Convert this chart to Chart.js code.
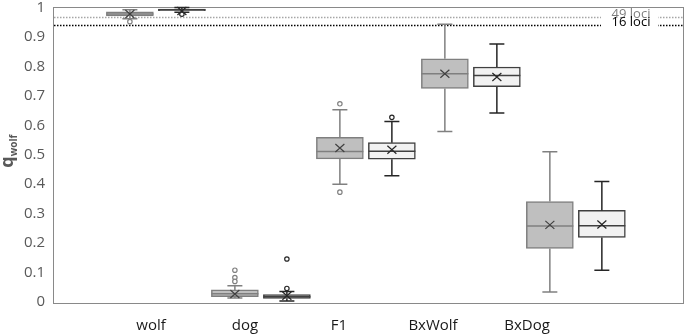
<!DOCTYPE html>
<html><head><meta charset="utf-8">
<script src="https://cdn.jsdelivr.net/npm/chart.js@4/dist/chart.umd.min.js"></script>
<style>html,body{margin:0;padding:0;background:#fff}canvas{display:block}</style>
</head><body>
<canvas id="c" width="685" height="336"></canvas>
<script>
// ---- data ----
const categories = ['wolf', 'dog', 'F1', 'BxWolf', 'BxDog'];
const yTicks = [0, 0.1, 0.2, 0.3, 0.4, 0.5, 0.6, 0.7, 0.8, 0.9, 1];

// grey series
const grayLow    = [0.962, 0.014, 0.400, 0.579, 0.034];
const grayQ1     = [0.971, 0.018, 0.486, 0.725, 0.182];
const grayMedian = [0.978, 0.028, 0.511, 0.775, 0.258];
const grayQ3     = [0.985, 0.041, 0.559, 0.826, 0.341];
const grayHigh   = [0.992, 0.055, 0.653, 0.943, 0.510];
const grayMean   = [0.978, 0.027, 0.523, 0.775, 0.262];
const grayOutliers = [[0.952], [0.108, 0.083, 0.070], [0.673, 0.373], [], []];

// white series
const whiteLow    = [0.984, 0.003, 0.429, 0.642, 0.108];
const whiteQ1     = [0.989, 0.012, 0.485, 0.731, 0.219];
const whiteMedian = [0.992, 0.018, 0.512, 0.769, 0.259];
const whiteQ3     = [0.995, 0.025, 0.541, 0.798, 0.311];
const whiteHigh   = [1.000, 0.036, 0.613, 0.876, 0.409];
const whiteMean   = [0.988, 0.021, 0.517, 0.764, 0.263];
const whiteOutliers = [[0.977], [0.146, 0.046], [0.627], [], []];

// reference lines
const refLabels = ['49 loci', '16 loci'];
const refValues = [0.969, 0.940];

// ---- styles ----
const series = [
  {low: grayLow, q1: grayQ1, med: grayMedian, q3: grayQ3, high: grayHigh, mean: grayMean, out: grayOutliers,
   fill: '#bfbfbf', stroke: '#7f7f7f', whisker: '#808080', mark: '#404040'},
  {low: whiteLow, q1: whiteQ1, med: whiteMedian, q3: whiteQ3, high: whiteHigh, mean: whiteMean, out: whiteOutliers,
   fill: '#f2f2f2', stroke: '#404040', whisker: '#262626', mark: '#262626'}
];
const refStyles = [{color: '#a6a6a6', text: '#7f7f7f'}, {color: '#000000', text: '#000000'}];

const boxPlugin = {
  id: 'boxplot',
  beforeDatasetsDraw(chart) {
    const ctx = chart.ctx, a = chart.chartArea, y = chart.scales.y;
    ctx.save();
    // frame
    ctx.strokeStyle = '#898989';
    ctx.lineWidth = 1;
    ctx.strokeRect(a.left + 0.5, Math.round(a.top) - 0.5, a.right - a.left - 1, Math.round(a.bottom - a.top) + 1);
    // reference lines
    refValues.forEach((v, i) => {
      const py = Math.round(y.getPixelForValue(v)) + 0.5;
      ctx.strokeStyle = refStyles[i].color;
      ctx.lineWidth = 1.3;
      ctx.setLineDash([1.5, 1.5]);
      ctx.beginPath(); ctx.moveTo(a.left + 1, py); ctx.lineTo(a.right - 1, py); ctx.stroke();
    });
    ctx.setLineDash([]);
    ctx.fillStyle = '#ffffff';
    ctx.fillRect(a.right - 83, a.top + 1, 57, 22);
    ctx.font = '13px "Open Sans"';
    ctx.textAlign = 'center';
    ctx.textBaseline = 'middle';
    refValues.forEach((v, i) => {
      const py = y.getPixelForValue(v);
      ctx.fillStyle = refStyles[i].text;
      ctx.fillText(refLabels[i], a.right - 53, py - 2.5);
    });
    ctx.restore();
  },
  afterDatasetsDraw(chart) {
    const ctx = chart.ctx, y = chart.scales.y;
    ctx.save();
    series.forEach((s, d) => {
      const meta = chart.getDatasetMeta(d);
      meta.data.forEach((el, i) => {
        const x = el.x, half = el.width / 2;
        const pQ1 = y.getPixelForValue(s.q1[i]), pQ3 = y.getPixelForValue(s.q3[i]);
        const pLo = y.getPixelForValue(s.low[i]), pHi = y.getPixelForValue(s.high[i]);
        ctx.strokeStyle = s.whisker;
        ctx.lineWidth = 1.5;
        ctx.beginPath();
        ctx.moveTo(x, pQ3); ctx.lineTo(x, pHi);
        ctx.moveTo(x - 7.5, pHi); ctx.lineTo(x + 7.5, pHi);
        ctx.moveTo(x, pQ1); ctx.lineTo(x, pLo);
        ctx.moveTo(x - 7.5, pLo); ctx.lineTo(x + 7.5, pLo);
        ctx.stroke();
        // median
        const pMed = y.getPixelForValue(s.med[i]);
        ctx.strokeStyle = s.stroke;
        ctx.beginPath(); ctx.moveTo(x - half, pMed); ctx.lineTo(x + half, pMed); ctx.stroke();
        // mean X
        const pMean = y.getPixelForValue(s.mean[i]);
        ctx.strokeStyle = s.mark;
        ctx.lineWidth = 1.2;
        ctx.beginPath();
        ctx.moveTo(x - 4.5, pMean - 4); ctx.lineTo(x + 4.5, pMean + 4);
        ctx.moveTo(x - 4.5, pMean + 4); ctx.lineTo(x + 4.5, pMean - 4);
        ctx.stroke();
        // outliers
        s.out[i].forEach(v => {
          const p = y.getPixelForValue(v);
          ctx.beginPath(); ctx.arc(x, p, 2.2, 0, Math.PI * 2);
          ctx.fillStyle = '#ffffff'; ctx.fill();
          ctx.strokeStyle = s.whisker; ctx.lineWidth = 1.2; ctx.stroke();
        });
      });
    });
    // y axis title q_wolf
    const a = chart.chartArea;
    const cy = (a.top + a.bottom) / 2;
    ctx.translate(15, cy + 13);
    ctx.rotate(-Math.PI / 2);
    ctx.fillStyle = '#595959';
    ctx.textAlign = 'left';
    ctx.textBaseline = 'alphabetic';
    ctx.font = 'bold 18px "Open Sans"';
    ctx.fillText('q', 0, -2);
    const qw = ctx.measureText('q').width;
    ctx.font = 'bold 10px "Open Sans"';
    ctx.fillText('wolf', qw, 1.5);
    ctx.restore();
  }
};

const makeData = (s) => categories.map((c, i) => ({x: i + 1, y: [s.q1[i], s.q3[i]]}));

new Chart(document.getElementById('c'), {
  type: 'bar',
  data: {
    datasets: series.map((s, d) => ({
      label: 'series' + d,
      data: makeData(s),
      backgroundColor: s.fill,
      borderColor: s.stroke,
      borderWidth: 1.5,
      borderSkipped: false,
      barThickness: 52,
      maxBarThickness: 47,
      xAxisID: 'x',
      yAxisID: 'y'
    }))
  },
  options: {
    responsive: false,
    devicePixelRatio: 1,
    animation: false,
    layout: {padding: {top: 0, right: 1, bottom: 0, left: 0}},
    plugins: {legend: {display: false}, tooltip: {enabled: false}},
    scales: {
      x: {type: 'linear', display: false, min: 0.02, max: 6.03, offset: false},
      xl: {
        type: 'linear', position: 'bottom', min: -0.043, max: 6.67, offset: false,
        afterBuildTicks: sc => { sc.ticks = categories.map((c, i) => ({value: i + 1})); },
        afterFit: sc => { sc.height = 34; sc.paddingLeft = 0; sc.paddingRight = 0; },
        grid: {display: false, drawTicks: false, offset: false},
        border: {display: false},
        ticks: {
          autoSkip: false, maxRotation: 0, padding: 15,
          color: '#1a1a1a', font: {family: '"Open Sans"', size: 15},
          callback: v => categories[Math.round(v) - 1] || ''
        }
      },
      y: {
        min: 0, max: 1,
        afterBuildTicks: sc => { sc.ticks = yTicks.map(v => ({value: v})); },
        afterFit: sc => { sc.width = 53; sc.paddingTop = 7.5; sc.paddingBottom = 7.5; },
        grid: {display: false, drawTicks: false},
        border: {display: false},
        ticks: {
          padding: 8, color: '#595959',
          font: {family: '"Open Sans"', size: 15, lineHeight: 1.0},
          callback: v => String(+(+v).toFixed(1))
        }
      }
    }
  },
  plugins: [boxPlugin]
});
</script>
</body></html>
